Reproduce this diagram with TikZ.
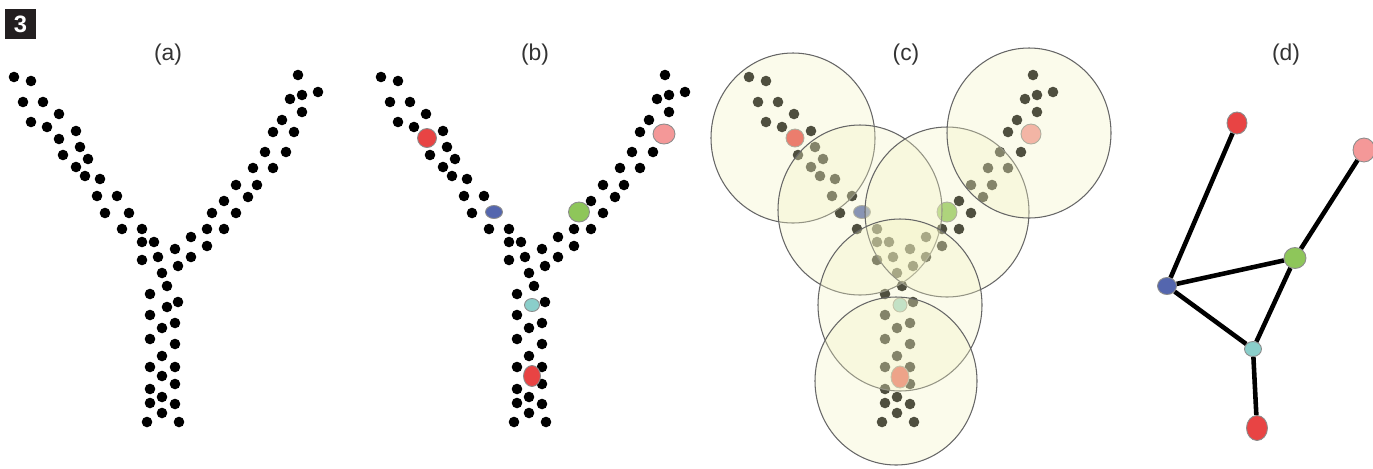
\documentclass[tikz,border=0pt]{standalone}
\usepackage{fontspec}
\setmainfont{Liberation Sans}
\usetikzlibrary{shapes.geometric}
\definecolor{cred}{RGB}{232,68,68}
\definecolor{cpink}{RGB}{244,152,152}
\definecolor{cgreen}{RGB}{142,198,90}
\definecolor{cblue}{RGB}{84,102,174}
\definecolor{cteal}{RGB}{138,206,202}
\definecolor{cfill}{RGB}{242,242,194}
\definecolor{badge}{RGB}{35,31,32}
\def\ydots{14/77,31/81,23/102,43/102,59/114,31/122,47/127,76/131,80/147,63/155,88/159,76/167,85/176,100/179,97/196,117/196,105/213,122/229,142/229,142/242,154/242,142/260,
298/75,318/92,302/95,290/99,302/112,282/120,273/132,265/152,286/152,253/168,273/168,236/185,257/185,248/197,224/201,236/213,207/229,224/229,191/237,207/246,175/249,191/257,158/257,
178/266,162/273,167/286,150/294,178/302,150/315,175/323,162/328,150/339,175/344,162/356,150/367,175/367,175/384,150/389,162/397,150/403,175/404,162/413,147/422,179/422}
\def\repdots{59/139,129/213,212/213,294/132,167/307,162/376}
\begin{document}
\begin{tikzpicture}[x=0.02cm,y=-0.02cm,
  dotfill/.style={fill=black},
  cn/.style={ellipse,draw=black!45,line width=0.5pt,inner sep=0pt},
  cnred/.style={cn,fill=cred},
  cnpink/.style={cn,fill=cpink},
  cngreen/.style={cn,fill=cgreen},
  cnblue/.style={cn,fill=cblue},
  cnteal/.style={cn,fill=cteal},
  zone/.style={draw=black!60,line width=0.6pt,fill=cfill,fill opacity=0.33},
  edge/.style={line width=2.6pt,black},
  lbl/.style={text=black!80,font=\fontsize{13}{15}\selectfont,inner sep=0pt}]
\useasboundingbox (0,0) rectangle (1373,468);
% badge and labels
\node[fill=badge,text=white,minimum width={31*0.02cm},minimum height={30*0.02cm},inner sep=0pt,font=\fontsize{13.5}{14}\selectfont\bfseries] (badge) at (20.5,24) {3};
\node[lbl] (la) at (168,55) {(a)};
\node[lbl] (lb) at (535,55) {(b)};
\node[lbl] (lc) at (906,55) {(c)};
\node[lbl] (ld) at (1286,55) {(d)};
% panel (a)
\foreach \p/\q in \ydots {\fill[dotfill] (\p,\q) circle[radius=5.3];}
\foreach \p/\q in \repdots {\fill[dotfill] (\p,\q) circle[radius=5.3];}
% panel (b)
\begin{scope}[shift={(367,0)}]
\foreach \p/\q in \ydots {\fill[dotfill] (\p,\q) circle[radius=5.3];}
\node[cnred,minimum width={19*0.02cm},minimum height={19*0.02cm}] (b1) at (60,138) {};
\node[cnblue,minimum width={17*0.02cm},minimum height={13*0.02cm}] (b2) at (127,212) {};
\node[cngreen,minimum width={21*0.02cm},minimum height={20*0.02cm}] (b3) at (212,212) {};
\node[cnpink,minimum width={22*0.02cm},minimum height={20*0.02cm}] (b4) at (297,134) {};
\node[cnteal,minimum width={15*0.02cm},minimum height={13*0.02cm}] (b5) at (165,305) {};
\node[cnred,minimum width={17*0.02cm},minimum height={21*0.02cm}] (b6) at (165,376) {};
\end{scope}
% panel (c)
\begin{scope}[shift={(735,0)}]
\foreach \p/\q in \ydots {\fill[dotfill] (\p,\q) circle[radius=5.3];}
\node[cnred,minimum width={18*0.02cm},minimum height={18*0.02cm}] (c1) at (60,138) {};
\node[cnblue,minimum width={17*0.02cm},minimum height={13*0.02cm}] (c2) at (127,212) {};
\node[cngreen,minimum width={20*0.02cm},minimum height={20*0.02cm}] (c3) at (212,212) {};
\node[cnpink,minimum width={20*0.02cm},minimum height={20*0.02cm}] (c4) at (296,134) {};
\node[cnteal,minimum width={14*0.02cm},minimum height={14*0.02cm}] (c5) at (165,305) {};
\node[cnred,minimum width={18*0.02cm},minimum height={22*0.02cm}] (c6) at (165,377) {};
\draw[zone] (58,138) ellipse[x radius=82,y radius=85];
\draw[zone] (125,210) ellipse[x radius=82,y radius=85];
\draw[zone] (212,212) ellipse[x radius=82,y radius=85];
\draw[zone] (294,133) ellipse[x radius=82,y radius=85];
\draw[zone] (165,305) ellipse[x radius=82,y radius=86];
\draw[zone] (161,381) ellipse[x radius=81,y radius=84];
\end{scope}
% panel (d)
\node[cnred,minimum width={20*0.02cm},minimum height={22*0.02cm}] (d1) at (1237,123) {};
\node[cnpink,minimum width={22*0.02cm},minimum height={24*0.02cm}] (d4) at (1364,150) {};
\node[cngreen,minimum width={22*0.02cm},minimum height={21*0.02cm}] (d3) at (1295,258) {};
\node[cnblue,minimum width={19*0.02cm},minimum height={17*0.02cm}] (d2) at (1167,286) {};
\node[cnteal,minimum width={17*0.02cm},minimum height={15*0.02cm}] (d5) at (1253,349) {};
\node[cnred,minimum width={21*0.02cm},minimum height={25*0.02cm}] (d6) at (1257,428) {};
\draw[edge] (d1) -- (d2);
\draw[edge] (d4) -- (d3);
\draw[edge] (d2) -- (d3);
\draw[edge] (d2) -- (d5);
\draw[edge] (d3) -- (d5);
\draw[edge] (d5) -- (d6);
\end{tikzpicture}
\end{document}
